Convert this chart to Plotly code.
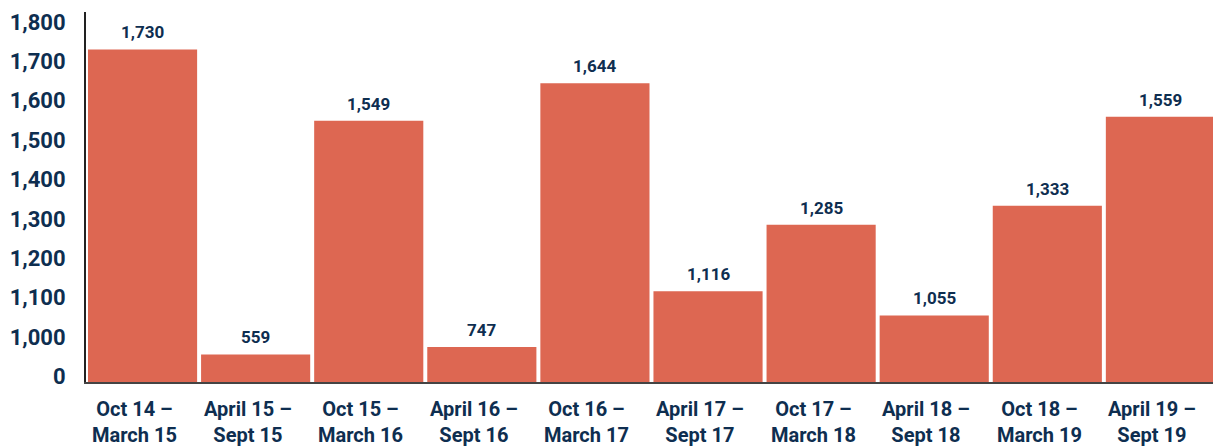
import plotly.graph_objects as go

categories = ["Oct 14 –<br>March 15", "April 15 –<br>Sept 15", "Oct 15 –<br>March 16",
              "April 16 –<br>Sept 16", "Oct 16 –<br>March 17", "April 17 –<br>Sept 17",
              "Oct 17 –<br>March 18", "April 18 –<br>Sept 18", "Oct 18 –<br>March 19",
              "April 19 –<br>Sept 19"]
values = [1730, 559, 1549, 747, 1644, 1116, 1285, 1055, 1333, 1559]
tick_values = [0, 1000, 1100, 1200, 1300, 1400, 1500, 1600, 1700, 1800]
tick_labels = ["0", "1,000", "1,100", "1,200", "1,300", "1,400", "1,500", "1,600", "1,700", "1,800"]

# broken axis: 0..1000 is compressed into the span 900..1000
def brk(v):
    return 900 + v / 10 if v < 1000 else v

disp = [brk(v) for v in values]
tick_pos = [brk(v) for v in tick_values]

BAR = "#DD6752"
NAVY = "#0E2E50"
FONT = "Roboto"

fig = go.Figure(go.Bar(x=list(range(len(categories))), y=disp, marker_color=BAR,
                       marker_line_width=0, hoverinfo="skip"))

for i, (d, v) in enumerate(zip(disp, values)):
    fig.add_annotation(x=i, y=d, text=f"{v:,}", showarrow=False, yanchor="bottom",
                       yshift=5, font=dict(family=FONT, size=17, color=NAVY, weight="bold"))

for i, c in enumerate(categories):
    fig.add_annotation(x=i, y=0, yref="paper", text=c, showarrow=False, yanchor="top",
                       xshift=-8, yshift=-13, align="center",
                       font=dict(family=FONT, size=20, color=NAVY, weight="bold"))

fig.update_layout(
    width=1213, height=448, margin=dict(l=86, r=0, t=12, b=66),
    plot_bgcolor="white", paper_bgcolor="white", bargap=0.035, showlegend=False,
    xaxis=dict(range=[-0.5, 9.465], showgrid=False, zeroline=False, showline=True,
               linecolor="#444444", linewidth=2, ticks="", showticklabels=False,
               automargin=False, fixedrange=True),
    yaxis=dict(tickmode="array", tickvals=tick_pos, ticktext=tick_labels,
               range=[886, 1825], showgrid=False, zeroline=False, showline=True,
               linecolor="#222222", linewidth=2, ticks="", ticklabelstandoff=14,
               automargin=False, fixedrange=True,
               tickfont=dict(family=FONT, size=22, color=NAVY, weight="bold")),
)

fig.write_html("out.html", config={"displayModeBar": False},
               post_script="document.body.style.margin='0';document.body.style.overflow='hidden';")
